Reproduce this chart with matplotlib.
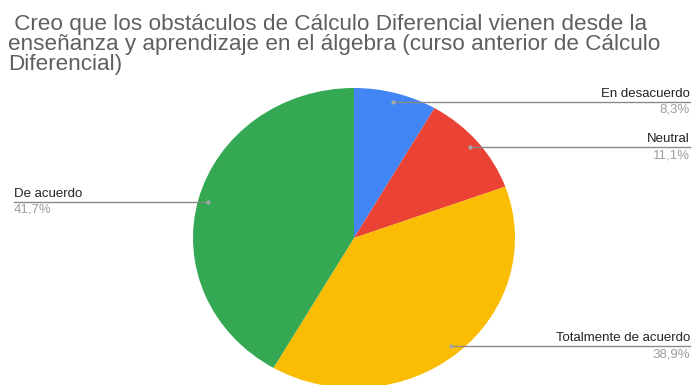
import numpy as np
import matplotlib.pyplot as plt
from matplotlib.lines import Line2D

plt.rcParams['font.family'] = ['Liberation Sans', 'DejaVu Sans']

categories = ["En desacuerdo", "Neutral", "Totalmente de acuerdo", "De acuerdo"]
counts = [3, 4, 14, 15]
colors = ["#4285F4", "#EA4335", "#FBBC04", "#34A853"]
title = (" Creo que los obstáculos de Cálculo Diferencial vienen desde la\n"
         "enseñanza y aprendizaje en el álgebra (curso anterior de Cálculo\n"
         "Diferencial)")

W, H = 694, 385
fig = plt.figure(figsize=(W / 100, H / 100), dpi=100)

# pie box in pixels (slightly wider than tall)
cx, cy, rx, ry = 354, 238, 161, 150
ax = fig.add_axes([(cx - rx) / W, (H - cy - ry) / H, 2 * rx / W, 2 * ry / H])
ax.pie(counts, colors=colors, startangle=90, counterclock=False,
       wedgeprops=dict(linewidth=0))
ax.set_aspect('auto')
ax.set_xlim(-1, 1)
ax.set_ylim(-1, 1)
ax.axis('off')

# baseline of the last title line
fig.text(8 / W, 1 - 70 / H, title, ha='left', va='baseline', fontsize=16.2,
         color='#5f5f5f', linespacing=0.95)

total = sum(counts)
to_fig = ax.transData + fig.transFigure.inverted()
cum = 0
for name, v in zip(categories, counts):
    mid = np.deg2rad(90 - (cum + v / 2) / total * 360)
    cum += v
    dx, dy = to_fig.transform((0.94 * np.cos(mid), 0.94 * np.sin(mid)))
    right = dx > cx / W
    xe = 690 / W if right else 14 / W
    fig.add_artist(Line2D([dx, xe], [dy, dy], transform=fig.transFigure,
                          color='#8a8a8a', lw=1))
    fig.add_artist(Line2D([dx], [dy], transform=fig.transFigure, marker='o',
                          ms=3, color='#a8a8a8', mec='none'))
    ha = 'right' if right else 'left'
    fig.text(xe, dy + 2 / H, name, ha=ha, va='bottom', fontsize=9.5,
             color='#222222')
    pct = f"{v / total * 100:.1f}%".replace('.', ',')
    fig.text(xe, dy - 2 / H, pct, ha=ha, va='top', fontsize=9.5,
             color='#9e9e9e')

fig.savefig('out.png', dpi=100)
